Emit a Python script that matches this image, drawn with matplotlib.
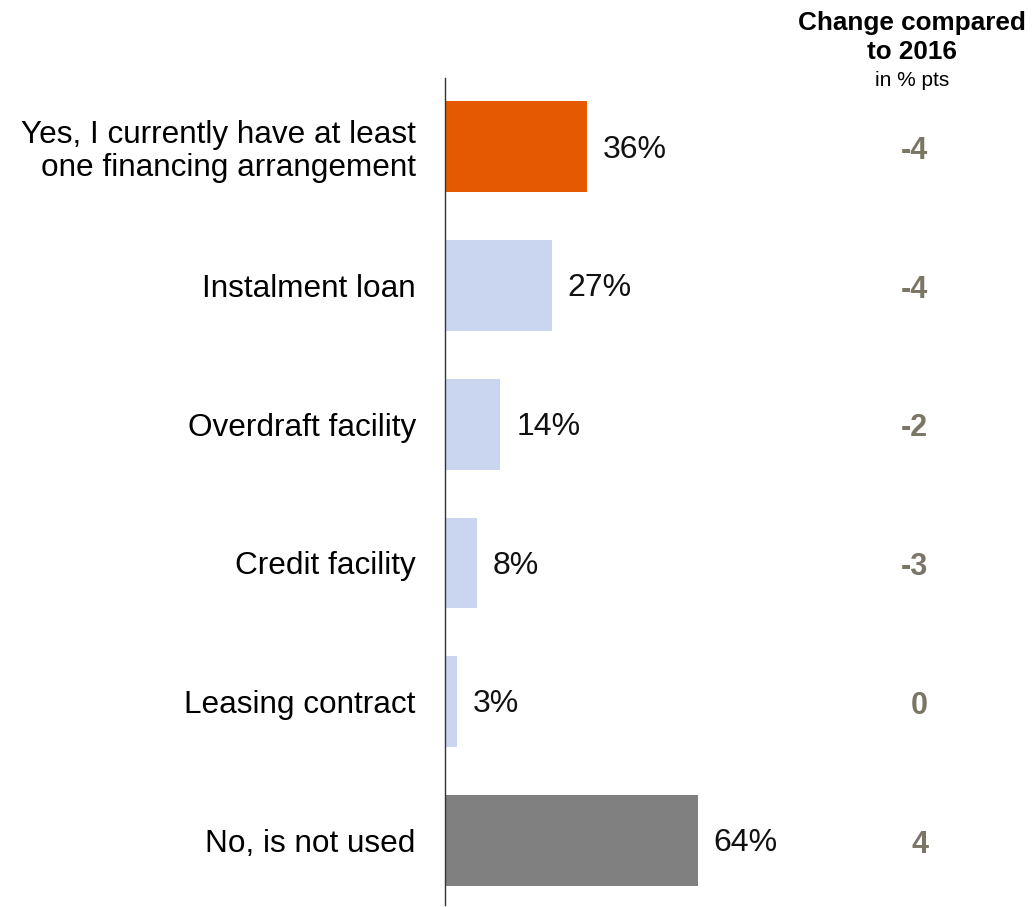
import matplotlib.pyplot as plt
from matplotlib.transforms import blended_transform_factory

plt.rcParams['font.family'] = ['Liberation Sans', 'DejaVu Sans']

categories = ['Yes, I currently have at least\none financing arrangement',
              'Instalment loan', 'Overdraft facility', 'Credit facility',
              'Leasing contract', 'No, is not used']
shares = [36, 27, 14, 8, 3, 64]
changes = ['-4', '-4', '-2', '-3', '0', '4']

colors = ['#E55A00', '#CAD6F0', '#CAD6F0', '#CAD6F0', '#CAD6F0', '#808080']

fig = plt.figure(figsize=(10.32, 9.07), dpi=100)
ax = fig.add_axes([445 / 1032, 2 / 907, 587 / 1032, 827 / 907])

pos = list(range(len(categories)))
ax.barh(pos, shares, height=0.656, color=colors)
for y, v in zip(pos, shares):
    ax.annotate('%d%%' % v, (v, y), xytext=(11.5, -2), textcoords='offset points',
                va='center', ha='left', fontsize=23, color='#111111')

ax.set_xlim(0, 587 / 3.95)
ax.set_ylim(5.466, -0.497)
ax.set_yticks(pos)
ax.set_yticklabels(categories, fontsize=22.7, linespacing=1.1)
ax.tick_params(axis='y', length=0, pad=21)
ax.set_xticks([])
for s in ['top', 'right', 'bottom']:
    ax.spines[s].set_visible(False)
ax.spines['left'].set_color('#333333')
ax.spines['left'].set_linewidth(1)

# change column on the right
tr = blended_transform_factory(fig.transFigure, ax.transData)
for y, c in zip(pos, changes):
    ax.annotate(c, (928 / 1032, y), xycoords=tr, xytext=(0, -3),
                textcoords='offset points', ha='right', va='center',
                fontsize=22, fontweight='bold', color='#7A7565')

fig.text(912 / 1032, 1 - 23 / 907, 'Change compared', ha='center', va='center',
         fontsize=18.8, fontweight='bold')
fig.text(912 / 1032, 1 - 52 / 907, 'to 2016', ha='center', va='center',
         fontsize=18.8, fontweight='bold')
fig.text(912 / 1032, 1 - 81 / 907, 'in % pts', ha='center', va='center',
         fontsize=15)

fig.savefig('out.png', dpi=100)
